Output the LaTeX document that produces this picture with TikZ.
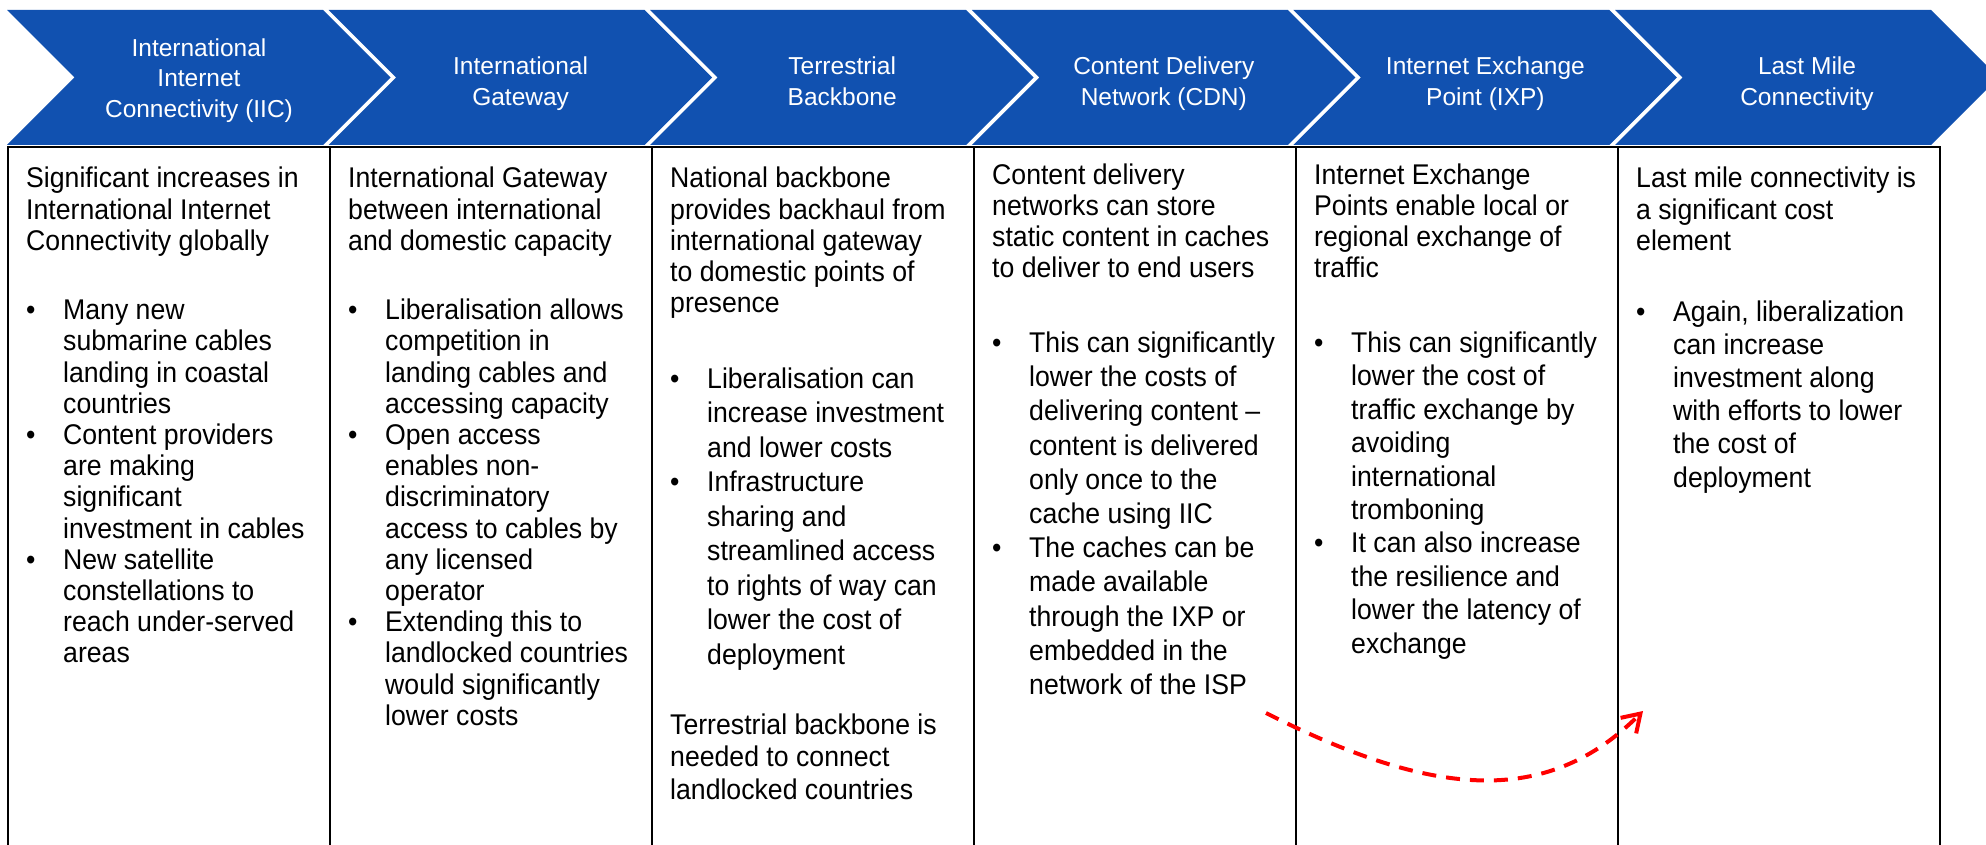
\documentclass[tikz,border=0pt]{standalone}
\usepackage{fontspec}
\setmainfont{Liberation Sans}
\newfontfamily\bodyfont{Liberation Sans}[FakeStretch=0.935]
\newfontfamily\headfont{Liberation Sans}
\usetikzlibrary{arrows.meta}
\definecolor{chevblue}{RGB}{17,81,176}
\definecolor{flowred}{RGB}{255,0,0}
% a block of column text, first baseline on the node's base
\newcommand{\coltext}[1]{\parbox[t]{300pt}{\raggedright #1}}
\newcommand{\headtext}[1]{\parbox[t]{300pt}{\centering #1}}
% bullet item: first line with bullet, and indented continuation lines
\newcommand{\bul}[1]{\makebox[37pt][l]{•}#1}
\newcommand{\cont}[1]{\hspace*{37pt}#1}
\begin{document}
\begin{tikzpicture}[x=1pt,y=-1pt,
  chev/.style={fill=chevblue},
  colbox/.style={draw=black, line width=2pt},
  head/.style={text=white, anchor=base, inner sep=0pt,
    font=\headfont\fontsize{24.5}{30.5}\selectfont},
  txt/.style={anchor=base west, inner sep=0pt,
    font=\bodyfont\fontsize{28.5}{#1}\selectfont},
  txt/.default=31.2,
  flow/.style={draw=flowred, line width=4pt, dash pattern=on 14pt off 10pt,
    -{Straight Barb[length=17pt,width=22pt]}}]

\useasboundingbox (0,0) rectangle (1986,845);
\clip (0,0) rectangle (1986,845);

% chevron band and the six columns below it
\foreach \k in {0,...,5} {
  \pgfmathsetmacro{\L}{7+321.6*\k}
  \fill[chev] (\L,10) -- ++(316,0) -- ++(67.5,67.5) -- ++(-67.5,67.5)
    -- ++(-316,0) -- ++(67.5,-67.5) -- cycle;
  \pgfmathsetmacro{\bx}{8+322*\k}
  \draw[colbox] (\bx,147) rectangle ++(322,720);
}

% chevron captions
\node[head] (h1) at (199,56.5) {\headtext{International\\Internet\\Connectivity (IIC)}};
\node[head] (h2) at (520.6,75) {\headtext{International\\Gateway}};
\node[head] (h3) at (842.2,75) {\headtext{Terrestrial\\Backbone}};
\node[head] (h4) at (1163.8,75) {\headtext{Content Delivery\\Network (CDN)}};
\node[head] (h5) at (1485.4,75) {\headtext{Internet Exchange\\Point (IXP)}};
\node[head] (h6) at (1807,75) {\headtext{Last Mile\\Connectivity}};

% column 1
\node[txt] (b1a) at (26,188) {\coltext{Significant increases in\\
International Internet\\
Connectivity globally}};
\node[txt] (b1b) at (26,319.7) {\coltext{\bul{Many new}\\
\cont{submarine cables}\\
\cont{landing in coastal}\\
\cont{countries}\\
\bul{Content providers}\\
\cont{are making}\\
\cont{significant}\\
\cont{investment in cables}\\
\bul{New satellite}\\
\cont{constellations to}\\
\cont{reach under-served}\\
\cont{areas}}};

% column 2
\node[txt] (b2a) at (348,188) {\coltext{International Gateway\\
between international\\
and domestic capacity}};
\node[txt] (b2b) at (348,319.7) {\coltext{\bul{Liberalisation allows}\\
\cont{competition in}\\
\cont{landing cables and}\\
\cont{accessing capacity}\\
\bul{Open access}\\
\cont{enables non-}\\
\cont{discriminatory}\\
\cont{access to cables by}\\
\cont{any licensed}\\
\cont{operator}\\
\bul{Extending this to}\\
\cont{landlocked countries}\\
\cont{would significantly}\\
\cont{lower costs}}};

% column 3
\node[txt] (b3a) at (670,188) {\coltext{National backbone\\
provides backhaul from\\
international gateway\\
to domestic points of\\
presence}};
\node[txt=34.5] (b3b) at (670,388) {\coltext{\bul{Liberalisation can}\\
\cont{increase investment}\\
\cont{and lower costs}\\
\bul{Infrastructure}\\
\cont{sharing and}\\
\cont{streamlined access}\\
\cont{to rights of way can}\\
\cont{lower the cost of}\\
\cont{deployment}}};
\node[txt=32.5] (b3c) at (670,734) {\coltext{Terrestrial backbone is\\
needed to connect\\
landlocked countries}};

% column 4
\node[txt] (b4a) at (992,184.2) {\coltext{Content delivery\\
networks can store\\
static content in caches\\
to deliver to end users}};
\node[txt=34.2] (b4b) at (992,352.5) {\coltext{\bul{This can significantly}\\
\cont{lower the costs of}\\
\cont{delivering content –}\\
\cont{content is delivered}\\
\cont{only once to the}\\
\cont{cache using IIC}\\
\bul{The caches can be}\\
\cont{made available}\\
\cont{through the IXP or}\\
\cont{embedded in the}\\
\cont{network of the ISP}}};

% column 5
\node[txt] (b5a) at (1314,184.2) {\coltext{Internet Exchange\\
Points enable local or\\
regional exchange of\\
traffic}};
\node[txt=33.4] (b5b) at (1314,352.5) {\coltext{\bul{This can significantly}\\
\cont{lower the cost of}\\
\cont{traffic exchange by}\\
\cont{avoiding}\\
\cont{international}\\
\cont{tromboning}\\
\bul{It can also increase}\\
\cont{the resilience and}\\
\cont{lower the latency of}\\
\cont{exchange}}};

% column 6
\node[txt] (b6a) at (1636,188) {\coltext{Last mile connectivity is\\
a significant cost\\
element}};
\node[txt=33.2] (b6b) at (1636,321) {\coltext{\bul{Again, liberalization}\\
\cont{can increase}\\
\cont{investment along}\\
\cont{with efforts to lower}\\
\cont{the cost of}\\
\cont{deployment}}};

% dashed link from the CDN column to last mile
\coordinate (cdnout) at (1266,713);
\coordinate (lastin) at (1643,711);
\draw[flow] (cdnout) .. controls (1432,797) and (1546,808) .. (lastin);
\end{tikzpicture}
\end{document}
